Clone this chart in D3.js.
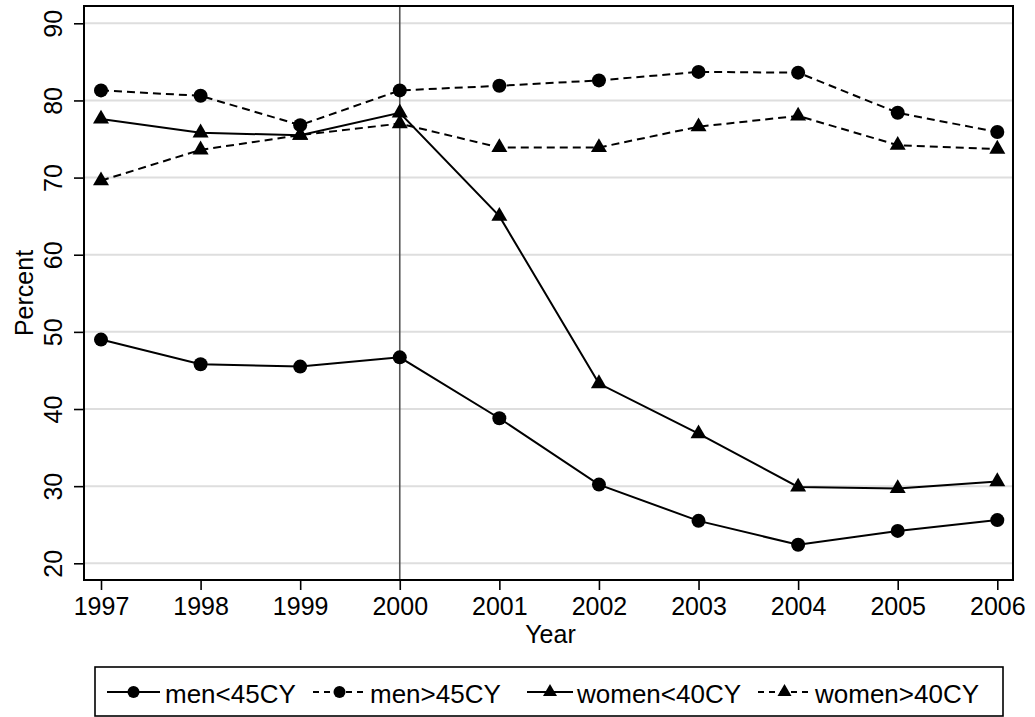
<!DOCTYPE html>
<html>
<head>
<meta charset="utf-8">
<script src="https://cdn.jsdelivr.net/npm/d3@7"></script>
<style>
  html, body { margin: 0; padding: 0; background: #fff; }
  svg { display: block; font-family: "Liberation Sans", Arial, Helvetica, sans-serif; }
</style>
</head>
<body>
<svg id="chart" width="1035" height="717"></svg>
<script>
// ---- data ----
const years = [1997, 1998, 1999, 2000, 2001, 2002, 2003, 2004, 2005, 2006];
const menUnder45  = [49.0, 45.8, 45.5, 46.7, 38.8, 30.2, 25.5, 22.4, 24.2, 25.6];
const menOver45   = [81.3, 80.6, 76.8, 81.3, 81.9, 82.6, 83.7, 83.6, 78.4, 75.9];
const womenUnder40 = [77.6, 75.8, 75.5, 78.4, 65.0, 43.3, 36.8, 29.9, 29.7, 30.6];
const womenOver40  = [69.6, 73.6, 75.5, 77.0, 73.9, 73.9, 76.6, 78.0, 74.2, 73.7];
const yTicks = [20, 30, 40, 50, 60, 70, 80, 90];
const seriesNames = ["men<45CY", "men>45CY", "women<40CY", "women>40CY"];
const refYear = 2000;

const series = [
  { name: seriesNames[0], values: menUnder45,  dashed: false, marker: "circle" },
  { name: seriesNames[1], values: menOver45,   dashed: true,  marker: "circle" },
  { name: seriesNames[2], values: womenUnder40, dashed: false, marker: "triangle" },
  { name: seriesNames[3], values: womenOver40, dashed: true,  marker: "triangle" }
];

// ---- layout ----
const frame = { left: 84, right: 1013, top: 6, bottom: 580 };
const svg = d3.select("#chart");

const x = d3.scaleLinear().domain([1997, 2006]).range([101, 997.3]);
const y = d3.scaleLinear().domain([20, 90]).range([563.3, 23.3]);

// gridlines
svg.append("g").selectAll("line").data(yTicks).join("line")
  .attr("x1", frame.left).attr("x2", frame.right)
  .attr("y1", d => y(d)).attr("y2", d => y(d))
  .attr("stroke", "#dedede").attr("stroke-width", 2);

// reference vertical line
svg.append("line")
  .attr("x1", x(refYear)).attr("x2", x(refYear))
  .attr("y1", frame.top).attr("y2", frame.bottom)
  .attr("stroke", "#555").attr("stroke-width", 1.6);

// frame
svg.append("rect")
  .attr("x", frame.left).attr("y", frame.top)
  .attr("width", frame.right - frame.left).attr("height", frame.bottom - frame.top)
  .attr("fill", "none").attr("stroke", "#000").attr("stroke-width", 2);

// y axis
const yAxis = d3.axisLeft(y).tickValues(yTicks).tickSize(10).tickPadding(0).tickFormat(d3.format("d"));
const gy = svg.append("g").attr("transform", `translate(${frame.left},0)`).call(yAxis);
gy.select(".domain").remove();
gy.selectAll(".tick line").attr("stroke", "#000").attr("stroke-width", 1.6);
gy.selectAll(".tick text")
  .attr("x", 0).attr("dy", null)
  .attr("transform", "translate(-22,0) rotate(-90)")
  .attr("text-anchor", "middle")
  .attr("font-size", 25).attr("fill", "#000")
  .attr("font-family", "Liberation Sans, Arial, sans-serif");

// x axis
const xAxis = d3.axisBottom(x).tickValues(years).tickSize(10).tickPadding(0).tickFormat(d3.format("d"));
const gx = svg.append("g").attr("transform", `translate(0,${frame.bottom})`).call(xAxis);
gx.select(".domain").remove();
gx.selectAll(".tick line").attr("stroke", "#000").attr("stroke-width", 1.6);
gx.selectAll(".tick text")
  .attr("y", 35).attr("dy", null)
  .attr("font-size", 25).attr("fill", "#000")
  .attr("font-family", "Liberation Sans, Arial, sans-serif");

// axis titles
svg.append("text")
  .attr("x", (frame.left + frame.right) / 2 + 2).attr("y", 643)
  .attr("text-anchor", "middle").attr("font-size", 25).text("Year");
svg.append("text")
  .attr("transform", `translate(33,${(frame.top + frame.bottom) / 2}) rotate(-90)`)
  .attr("text-anchor", "middle").attr("font-size", 25).text("Percent");

// lines
const line = d3.line().x((d, i) => x(years[i])).y(d => y(d));
const triPath = (s) => {
  const h = s * Math.sqrt(3) / 2;
  return `M0,${-h * 2 / 3}L${s / 2},${h / 3}L${-s / 2},${h / 3}Z`;
};

series.forEach(s => {
  svg.append("path")
    .attr("d", line(s.values))
    .attr("fill", "none").attr("stroke", "#000").attr("stroke-width", 2)
    .attr("stroke-dasharray", s.dashed ? "8,5" : null);
  const g = svg.append("g");
  if (s.marker === "circle") {
    g.selectAll("circle").data(s.values).join("circle")
      .attr("cx", (d, i) => x(years[i])).attr("cy", d => y(d)).attr("r", 7)
      .attr("fill", "#000");
  } else {
    g.selectAll("path").data(s.values).join("path")
      .attr("transform", (d, i) => `translate(${x(years[i])},${y(d)})`)
      .attr("d", triPath(16)).attr("fill", "#000");
  }
});

// legend
const legend = svg.append("g");
legend.append("rect")
  .attr("x", 95).attr("y", 667).attr("width", 908).attr("height", 49)
  .attr("fill", "#fff").attr("stroke", "#000").attr("stroke-width", 1.6);
const legendItems = [
  { x0: 107, x1: 160, tx: 165 },
  { x0: 313, x1: 366, tx: 370 },
  { x0: 527, x1: 573, tx: 577 },
  { x0: 758, x1: 811, tx: 815 }
];
series.forEach((s, i) => {
  const it = legendItems[i];
  const ly = 692;
  legend.append("line")
    .attr("x1", it.x0).attr("x2", it.x1).attr("y1", ly).attr("y2", ly)
    .attr("stroke", "#000").attr("stroke-width", 2)
    .attr("stroke-dasharray", s.dashed ? "6,5" : null);
  const mx = (it.x0 + it.x1) / 2;
  if (s.marker === "circle") {
    legend.append("circle").attr("cx", mx).attr("cy", ly).attr("r", 6).attr("fill", "#000");
  } else {
    legend.append("path").attr("transform", `translate(${mx},${ly})`).attr("d", triPath(14)).attr("fill", "#000");
  }
  legend.append("text").attr("x", it.tx).attr("y", 703)
    .attr("font-size", 26).attr("fill", "#000").text(s.name);
});
</script>
</body>
</html>
